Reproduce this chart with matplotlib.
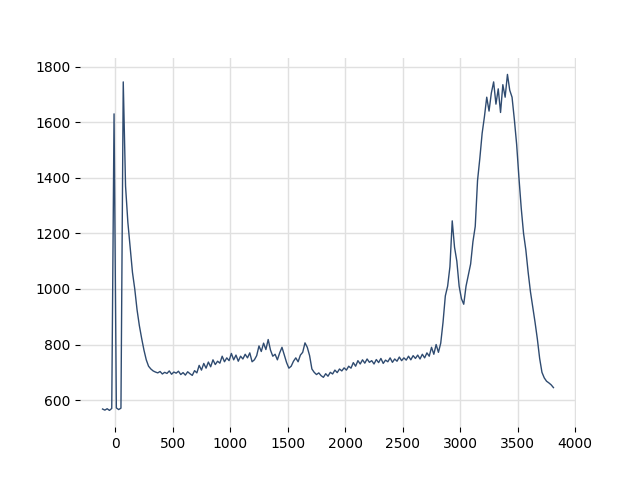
import numpy as np
import matplotlib
matplotlib.use("Agg")
import matplotlib.pyplot as plt

# samples every 20 units, from -110 to 3810
x_start, x_stop, x_step = -110, 3810, 20
signal = [
    568, 564, 569, 563, 570, 1630, 572, 566, 571, 1745,
    1370, 1240, 1150, 1060, 1000, 925, 868, 822, 780, 745,
    722, 712, 705, 701, 698, 703, 694, 700, 696, 705,
    693, 701, 697, 704, 692, 699, 690, 702, 695, 689,
    706, 698, 725, 708, 732, 715, 737, 720, 745, 728,
    740, 733, 758, 738, 752, 742, 768, 745, 762, 740,
    758, 748, 765, 752, 770, 738, 745, 760, 795, 775,
    805, 782, 818, 780, 758, 765, 745, 770, 790, 762,
    735, 715, 722, 740, 752, 738, 762, 772, 806, 790,
    760, 712, 700, 692, 698, 688, 682, 695, 686, 700,
    694, 708, 699, 712, 705, 716, 708, 722, 715, 735,
    722, 742, 730, 745, 733, 748, 736, 742, 730, 746,
    735, 750, 732, 744, 738, 752, 736, 748, 740, 755,
    742, 752, 744, 758, 745, 760, 750, 762, 748, 765,
    752, 770, 758, 790, 765, 800, 772, 805, 880, 975,
    1010, 1080, 1245, 1150, 1100, 1010, 965, 945, 1010, 1050,
    1090, 1170, 1225, 1390, 1470, 1560, 1620, 1690, 1640, 1705,
    1745, 1665, 1720, 1635, 1735, 1690, 1772, 1715, 1690, 1610,
    1520, 1400, 1290, 1200, 1140, 1060, 990, 935, 880, 820,
    750, 700, 680, 668, 662, 655, 645,
]
x = np.arange(x_start, x_stop + 1, x_step)

fig, ax = plt.subplots(figsize=(6.4, 4.8), dpi=100)
ax.plot(x, signal, color="#2f4b70", linewidth=1.0)

ax.grid(True, color="#e0e0e0", linewidth=1)
ax.set_axisbelow(True)
for s in ax.spines.values():
    s.set_visible(False)
ax.set_xticks([0, 500, 1000, 1500, 2000, 2500, 3000, 3500, 4000])
ax.set_yticks([600, 800, 1000, 1200, 1400, 1600, 1800])

fig.savefig("out.png")
